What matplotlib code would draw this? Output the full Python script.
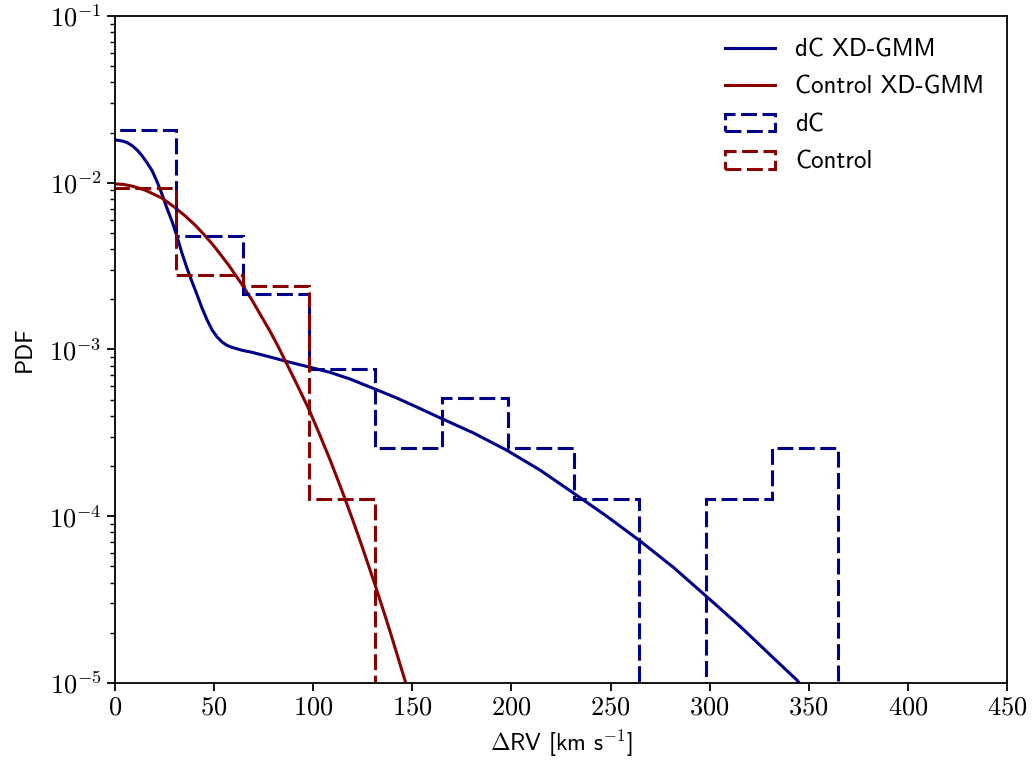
import matplotlib
matplotlib.use('Agg')
import matplotlib.pyplot as plt
from matplotlib.ticker import FuncFormatter, LogLocator, NullFormatter, MultipleLocator
import numpy as np

# histogram bin edges in km/s (shared by both samples)
bin_edges = [-2.6, 30.8, 64.5, 97.9, 131.2, 164.8, 198.1, 231.4, 264.6, 298.0, 331.6, 364.9]
dc_density = [0.0207, 0.00481, 0.00216, 0.000767, 0.000257, 0.000513,
              0.000257, 0.000127, 0.0, 0.000127, 0.000255]
control_density = [0.00929, 0.00278, 0.00239, 0.000127, 0.0, 0.0,
                   0.0, 0.0, 0.0, 0.0, 0.0]

# XD-GMM model curves, sampled along delta RV
dc_model_rv = [0, 3.5, 6.1, 8.6, 11.1, 13.6, 16.1, 18.7, 21.2, 23.7, 26.2, 28.8, 31.3,
               33.8, 36.3, 38.8, 41.4, 43.9, 46.4, 48.9, 51.5, 54.0, 56.5, 59.0,
               64.1, 69.1, 78.2, 88.3, 97.9, 108.5, 118.6, 131.2, 142.1, 152.2,
               164.0, 180.8, 197.6, 214.5, 231.2, 248.1, 264.9, 281.7, 298.2,
               315.3, 332.1, 344.0, 350.0]
dc_model_pdf = [0.01807, 0.01782, 0.01742, 0.01671, 0.01574, 0.01455, 0.01321,
                0.01183, 0.01016, 0.00855, 0.00705, 0.00586, 0.00476, 0.00378,
                0.00308, 0.00256, 0.00213, 0.001774, 0.00151, 0.001315, 0.001189,
                0.001109, 0.001059, 0.00103, 0.000989, 0.000962, 0.000902,
                0.000838, 0.000785, 0.000729, 0.000665, 0.000579, 0.000512,
                0.000452, 0.000389, 0.000316, 0.000249, 0.000189, 0.000138,
                0.0001, 7.11e-5, 4.94e-5, 3.32e-5, 2.19e-5, 1.416e-5, 1.042e-5,
                8.5e-6]

control_model_rv = [0, 4.3, 8.6, 15.3, 23.7, 30.4, 35.5, 40.5, 44.7, 48.9, 53.1, 57.4,
                    64.1, 69.1, 73.6, 78.2, 82.0, 85.8, 91.8, 97.9, 103.2, 108.5,
                    112.2, 116.0, 119.8, 123.6, 127.4, 131.2, 135.0, 138.7, 142.5,
                    146.3, 150.0]
control_model_pdf = [0.00984, 0.00977, 0.00955, 0.00902, 0.00809, 0.00708, 0.00631,
                     0.00556, 0.00492, 0.00432, 0.00373, 0.0032, 0.00245, 0.00198,
                     0.0016, 0.001288, 0.00106, 0.000861, 0.000617, 0.000436,
                     0.00031, 0.000218, 0.000168, 0.0001276, 9.6e-5, 7.16e-5,
                     5.28e-5, 3.88e-5, 2.82e-5, 2.05e-5, 1.46e-5, 1.035e-5, 7.4e-6]

dc_color = '#00008b'
control_color = '#8b0000'

plt.rcParams['font.family'] = 'cmss10'
plt.rcParams['mathtext.fontset'] = 'cm'
plt.rcParams['axes.unicode_minus'] = False

fig = plt.figure(figsize=(10.33, 7.61), dpi=100)
ax = fig.add_axes([0.1113, 0.1025, 0.8635, 0.8765])
ax.set_yscale('log')

lw = 2.2
dash = (0, (5.2, 1.8))
l1, = ax.plot(dc_model_rv, dc_model_pdf, color=dc_color, lw=lw, label='dC XD-GMM')
l2, = ax.plot(control_model_rv, control_model_pdf, color=control_color, lw=lw,
              label='Control XD-GMM')
_, _, h1 = ax.hist(bin_edges[:-1], bins=bin_edges, weights=dc_density, histtype='step',
                   color=dc_color, lw=lw, linestyle=dash, label='dC')
_, _, h2 = ax.hist(bin_edges[:-1], bins=bin_edges, weights=control_density,
                   histtype='step', color=control_color, lw=lw, linestyle=dash,
                   label='Control')

ax.set_xlim(0, 450)
ax.set_ylim(1e-5, 1e-1)
ax.xaxis.set_major_locator(MultipleLocator(50))
ax.xaxis.set_major_formatter(FuncFormatter(lambda v, p: r'$%d$' % v))
ax.yaxis.set_major_locator(LogLocator(base=10))
ax.yaxis.set_minor_locator(LogLocator(base=10, subs=np.arange(2, 10)))
ax.yaxis.set_minor_formatter(NullFormatter())
ax.yaxis.set_major_formatter(FuncFormatter(lambda v, p: r'$10^{%d}$' % round(np.log10(v))))

for s in ax.spines.values():
    s.set_linewidth(1.3)
ax.tick_params(which='major', length=6, width=1.3, labelsize=19)
ax.tick_params(which='minor', length=3.5, width=1.0)

ax.set_xlabel(r'$\Delta$RV [km s$^{-1}$]', fontsize=17, labelpad=6)
ax.set_ylabel('PDF', fontsize=17, labelpad=10)

ax.legend(handles=[l1, l2, h1[0], h2[0]], loc='upper right', frameon=False,
          fontsize=18, labelspacing=0.58)

fig.savefig('out.png', dpi=100)
